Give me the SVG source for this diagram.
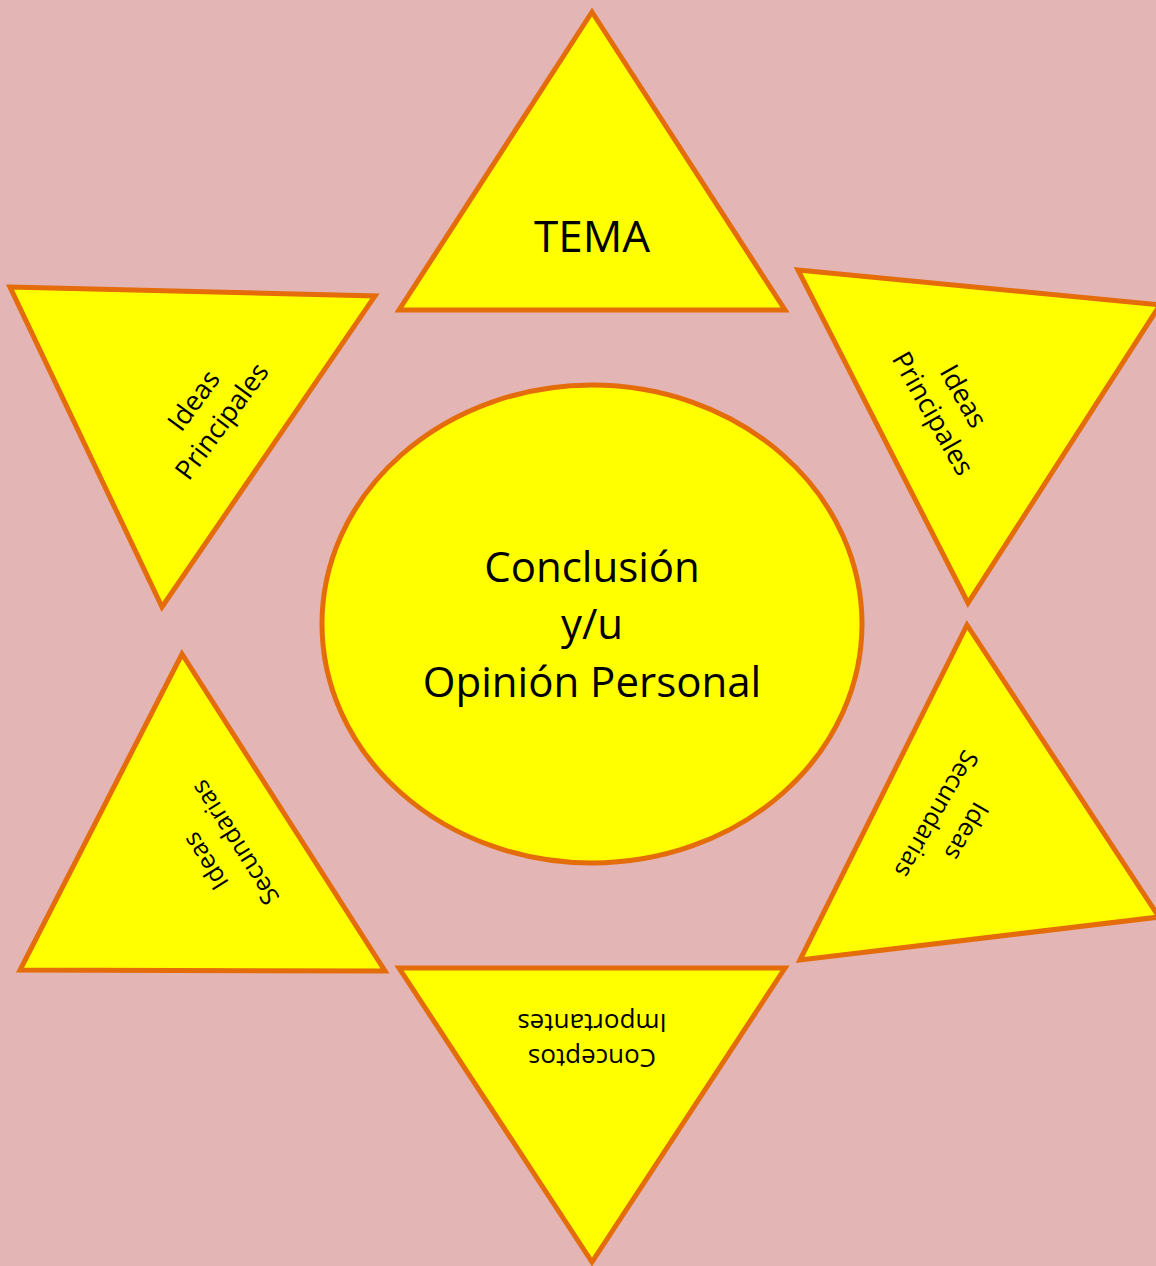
<svg xmlns="http://www.w3.org/2000/svg" width="1156" height="1266" viewBox="0 0 1156 1266">
<style>
.shape{fill:#FFFF00;stroke:#E46C0A;stroke-width:5;stroke-linejoin:miter}
.t{font-family:"Open Sans","Liberation Sans",sans-serif;fill:#000;text-anchor:middle}
.big{font-size:42px}
.tema{font-size:44px}
.pr{font-size:27px}
.se{font-size:25px}
.co{font-size:26px}
</style>
<rect x="0" y="0" width="1156" height="1266" fill="#E4B5B5"/>
<g id="tema">
<polygon class="shape" points="592,12 785,310 399,310"/>
<text class="t tema" x="592" y="252">TEMA</text>
</g>
<g id="ideas-principales-left">
<polygon class="shape" points="10,287 375,296 162,607"/>
<g transform="translate(208,411) rotate(-53.6)">
<text class="t pr" x="0" y="-8.5">Ideas</text>
<text class="t pr" x="0" y="26.5">Principales</text>
</g>
</g>
<g id="ideas-principales-right">
<polygon class="shape" points="798,270 1160,305 968,603"/>
<g transform="translate(948,405) rotate(60.5)">
<text class="t pr" x="0" y="-8.5">Ideas</text>
<text class="t pr" x="0" y="26.5">Principales</text>
</g>
</g>
<g id="ideas-secundarias-right">
<polygon class="shape" points="967,625 1159,917 800,960"/>
<g transform="translate(952,823) rotate(119.8)">
<text class="t se" x="0" y="-8.5">Ideas</text>
<text class="t se" x="0" y="26.5">Secundarias</text>
</g>
</g>
<g id="ideas-secundarias-left">
<polygon class="shape" points="182,654 385,971 20,970"/>
<g transform="translate(220,852) rotate(-122.3)">
<text class="t se" x="0" y="-8.5">Ideas</text>
<text class="t se" x="0" y="26.5">Secundarias</text>
</g>
</g>
<g id="conceptos-importantes">
<polygon class="shape" points="399,968 785,968 592,1262"/>
<g transform="translate(592,1040) rotate(180)">
<text class="t co" x="0" y="-8.5">Conceptos</text>
<text class="t co" x="0" y="26.5">Importantes</text>
</g>
</g>
<g id="conclusion">
<ellipse class="shape" cx="592" cy="624" rx="270" ry="239"/>
<text class="t big" x="592" y="582">Conclusión</text>
<text class="t big" x="592" y="639">y/u</text>
<text class="t big" x="592" y="697">Opinión Personal</text>
</g>
<g id="connectors"></g>
</svg>
